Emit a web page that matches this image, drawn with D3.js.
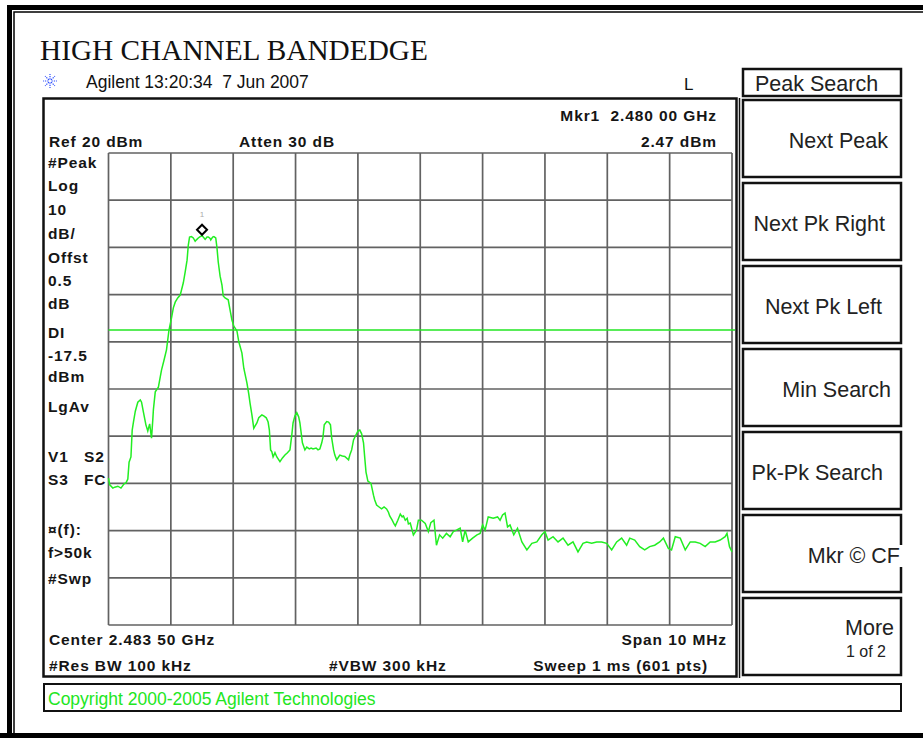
<!DOCTYPE html>
<meta charset="utf-8">
<title>high channel bandedge</title>
<style>
  body { margin: 0; background: #fff; }
  svg text { font-family: "Liberation Sans", Arial, sans-serif; }
</style>
<body>
<script src="https://d3js.org/d3.v7.min.js"></script>
<script>
// trace: offset from centre (MHz) and level (dBm)
var freqOffset = [
  -5.00,-4.98,-4.93,-4.90,-4.85,-4.80,-4.75,-4.72,-4.69,-4.67,
  -4.64,-4.62,-4.60,-4.57,-4.53,-4.49,-4.47,-4.44,-4.40,-4.37,
  -4.34,-4.31,-4.29,-4.28,-4.25,-4.20,-4.15,-4.11,-4.07,-4.03,
  -3.99,-3.96,-3.93,-3.89,-3.85,-3.80,-3.77,-3.74,-3.72,-3.70,
  -3.67,-3.64,-3.61,-3.59,-3.56,-3.53,-3.50,-3.48,-3.45,-3.42,
  -3.40,-3.37,-3.36,-3.33,-3.31,-3.28,-3.26,-3.24,-3.21,-3.18,
  -3.16,-3.13,-3.08,-3.05,-3.02,-2.99,-2.94,-2.91,-2.86,-2.83,
  -2.78,-2.75,-2.73,-2.70,-2.67,-2.62,-2.59,-2.54,-2.51,-2.47,
  -2.44,-2.42,-2.40,-2.38,-2.36,-2.33,-2.30,-2.25,-2.21,-2.17,
  -2.13,-2.09,-2.06,-2.04,-2.01,-1.98,-1.95,-1.93,-1.89,-1.85,
  -1.82,-1.78,-1.75,-1.72,-1.67,-1.64,-1.61,-1.58,-1.56,-1.54,
  -1.50,-1.47,-1.44,-1.42,-1.39,-1.37,-1.34,-1.31,-1.29,-1.25,
  -1.21,-1.15,-1.13,-1.10,-1.07,-1.03,-1.00,-0.97,-0.94,-0.91,
  -0.89,-0.87,-0.84,-0.79,-0.75,-0.73,-0.70,-0.66,-0.62,-0.58,
  -0.54,-0.51,-0.49,-0.45,-0.42,-0.40,-0.36,-0.32,-0.29,-0.27,
  -0.24,-0.21,-0.19,-0.16,-0.11,-0.06,-0.03,0.02,0.08,0.13,
  0.17,0.22,0.26,0.31,0.36,0.42,0.48,0.53,0.58,0.64,
  0.68,0.72,0.77,0.84,0.91,0.96,1.00,1.04,1.09,1.17,
  1.24,1.28,1.32,1.36,1.40,1.44,1.50,1.56,1.63,1.71,
  1.79,1.87,1.95,2.00,2.05,2.13,2.21,2.29,2.37,2.45,
  2.53,2.61,2.67,2.75,2.83,2.91,2.99,3.07,3.15,3.23,
  3.31,3.36,3.44,3.52,3.60,3.68,3.76,3.84,3.90,3.98,
  4.03,4.09,4.17,4.25,4.33,4.41,4.49,4.57,4.65,4.73,
  4.81,4.89,4.92,4.96,5.00
];
var level = [
  -48.9,-50.3,-51.0,-50.8,-50.6,-51.0,-50.1,-49.9,-49.1,-45.5,
  -44.4,-38.7,-37.0,-34.7,-32.8,-32.3,-32.8,-34.9,-37.6,-38.9,
  -37.4,-40.4,-36.6,-34.4,-30.6,-29.6,-26.0,-23.9,-21.7,-17.5,
  -15.0,-12.8,-11.6,-10.7,-10.1,-7.5,-5.2,-2.7,0.5,2.2,
  2.3,2.0,1.3,1.6,2.0,2.3,2.47,2.2,1.7,2.2,
  2.2,1.9,1.6,2.2,2.3,2.0,-0.1,-3.1,-6.1,-8.0,
  -10.3,-10.7,-11.1,-13.3,-15.4,-16.7,-17.7,-20.0,-22.4,-25.6,
  -28.7,-31.1,-33.0,-35.5,-38.3,-37.2,-36.1,-35.5,-35.7,-36.1,
  -37.0,-38.7,-42.9,-43.3,-44.4,-43.5,-44.4,-45.4,-44.6,-44.0,
  -43.5,-42.9,-39.7,-37.2,-35.7,-35.0,-35.9,-37.2,-41.4,-42.9,
  -42.3,-42.7,-42.5,-42.7,-42.5,-42.9,-42.7,-41.4,-40.2,-37.6,
  -36.9,-37.0,-37.6,-40.4,-42.9,-44.0,-45.0,-44.4,-44.0,-44.2,
  -44.3,-45.0,-44.0,-42.9,-40.8,-39.7,-38.9,-38.7,-39.5,-41.4,
  -44.6,-47.6,-49.5,-50.0,-52.5,-53.5,-54.6,-55.0,-55.4,-55.0,
  -55.4,-56.1,-56.9,-57.8,-58.6,-59.0,-57.8,-56.5,-57.1,-56.9,
  -57.8,-57.4,-58.6,-58.4,-60.9,-59.9,-57.8,-57.8,-58.5,-60.2,
  -58.3,-57.8,-63.1,-60.9,-61.6,-60.6,-61.3,-60.2,-59.9,-59.5,
  -62.4,-59.9,-62.4,-61.6,-60.9,-60.6,-58.8,-59.9,-57.1,-57.4,
  -57.1,-57.8,-56.7,-56.3,-59.2,-58.8,-60.9,-59.5,-62.4,-64.1,
  -62.7,-62.4,-60.9,-60.2,-62.0,-61.3,-62.4,-61.6,-63.1,-62.4,
  -64.5,-62.7,-62.4,-62.7,-62.4,-62.4,-62.7,-64.1,-62.4,-61.6,
  -63.1,-61.6,-62.0,-63.4,-64.1,-63.4,-63.1,-62.4,-61.6,-63.8,
  -64.1,-61.3,-61.6,-64.1,-62.4,-62.4,-62.7,-63.4,-62.4,-62.4,
  -62.0,-61.3,-60.6,-63.4,-64.5
];

var refLevel = 20;          // dBm, top line
var dbPerDiv = 10;
var spanMHz = 10;
var displayLine = -17.5;    // dBm
var markerFreq = -3.5;      // 2.480 00 GHz
var markerLevel = 2.47;

var leftLabels = ["#Peak", "Log", "10", "dB/", "Offst", "0.5", "dB", "DI", "-17.5", "dBm",
                  "LgAv", "V1  S2", "S3  FC", "¤(f):", "f>50k", "#Swp"];
var leftBaselines = [168, 191, 215, 239, 263, 286, 309, 338, 361, 382, 412, 462, 485, 535, 558, 584];

var softKeys = ["Next Peak", "Next Pk Right", "Next Pk Left", "Min Search", "Pk-Pk Search", "Mkr © CF", "More"];
var softKeyEnds = [888, 885, 882, 891, 883, 900, 894];

var width = 923, height = 738;
var nb = "\u00a0";

var svg = d3.select("body").append("svg")
    .attr("width", width)
    .attr("height", height);

// outer printout frame
svg.append("rect").attr("x", 0).attr("y", 0).attr("width", width).attr("height", height).attr("fill", "#fff");
svg.append("path")
    .attr("d", "M9.5,740 V7.5 H930")
    .attr("fill", "none").attr("stroke", "#000").attr("stroke-width", 5);
svg.append("path")
    .attr("d", "M14,740 V12 H930")
    .attr("fill", "none").attr("stroke", "#000").attr("stroke-width", 1.5);
svg.append("rect").attr("x", 0).attr("y", 733).attr("width", width).attr("height", 6).attr("fill", "#000");

svg.append("text")
    .attr("x", 40).attr("y", 60)
    .style("font-family", "'Liberation Serif', 'Times New Roman', serif")
    .style("font-size", "29.3px")
    .attr("fill", "#111")
    .text("HIGH CHANNEL BANDEDGE");

// agilent spark logo
var logo = svg.append("g").attr("transform", "translate(50,81)");
logo.selectAll("line")
    .data(d3.range(8))
    .enter().append("line")
    .attr("x1", d => 1.5 * Math.cos(d * Math.PI / 4))
    .attr("y1", d => 1.5 * Math.sin(d * Math.PI / 4))
    .attr("x2", d => 7 * Math.cos(d * Math.PI / 4))
    .attr("y2", d => 7 * Math.sin(d * Math.PI / 4))
    .attr("stroke", "#2a4cff")
    .attr("stroke-width", 1.2)
    .attr("stroke-dasharray", "1.3,1");

svg.append("text")
    .attr("x", 86).attr("y", 88)
    .style("font-size", "17.5px")
    .attr("fill", "#111")
    .text("Agilent 13:20:34" + nb + nb + "7 Jun 2007");

svg.append("text")
    .attr("x", 684).attr("y", 90)
    .style("font-size", "17px")
    .attr("fill", "#111")
    .text("L");

// instrument screen frame
svg.append("rect")
    .attr("x", 43.5).attr("y", 98.5).attr("width", 693).attr("height", 578)
    .attr("fill", "none").attr("stroke", "#111").attr("stroke-width", 2.5);
svg.append("line")
    .attr("x1", 739.5).attr("x2", 739.5).attr("y1", 98).attr("y2", 678)
    .attr("stroke", "#111").attr("stroke-width", 1.5);

// copyright strip
svg.append("rect")
    .attr("x", 44).attr("y", 684).attr("width", 857).attr("height", 27)
    .attr("fill", "none").attr("stroke", "#111").attr("stroke-width", 2);
svg.append("text")
    .attr("x", 48).attr("y", 705)
    .style("font-size", "17.5px")
    .attr("fill", "#22e622")
    .text("Copyright 2000-2005 Agilent Technologies");

// soft keys
svg.append("rect")
    .attr("x", 743).attr("y", 69).attr("width", 158).attr("height", 27)
    .attr("fill", "#fff").attr("stroke", "#111").attr("stroke-width", 2.5);
svg.append("text")
    .attr("x", 755).attr("y", 91)
    .style("font-size", "21.5px")
    .attr("fill", "#222")
    .text("Peak Search");

var keys = svg.append("g").selectAll("g")
    .data(softKeys)
    .enter().append("g")
    .attr("transform", (d, i) => "translate(743," + (100 + i * 83) + ")");

keys.append("rect")
    .attr("width", 158).attr("height", 77)
    .attr("fill", "#fff").attr("stroke", "#111").attr("stroke-width", 2.5);

keys.append("text")
    .attr("x", (d, i) => softKeyEnds[i] - 743)
    .attr("y", (d, i) => d == "More" ? 37 : 48)
    .attr("text-anchor", "end")
    .style("font-size", "21.5px")
    .attr("fill", "#222")
    .text(d => d);

// the CF label runs over the key border
keys.filter(d => d == "Mkr © CF")
    .insert("rect", "text")
    .attr("x", 150).attr("y", 30).attr("width", 12).attr("height", 22)
    .attr("fill", "#fff");

keys.filter(d => d == "More")
    .append("text")
    .attr("x", 886 - 743).attr("y", 59)
    .attr("text-anchor", "end")
    .style("font-size", "16px")
    .attr("fill", "#222")
    .text("1 of 2");

// graticule
var x = d3.scaleLinear().domain([-spanMHz / 2, spanMHz / 2]).range([108.5, 732]);
var y = d3.scaleLinear().domain([refLevel - 10 * dbPerDiv, refLevel]).range([625, 153]);

var grid = svg.append("g").attr("class", "grid");
grid.selectAll(".vline")
    .data(x.ticks(10))
    .enter().append("line")
    .attr("x1", d => x(d)).attr("x2", d => x(d))
    .attr("y1", y.range()[1]).attr("y2", y.range()[0])
    .attr("stroke", "#626262").attr("stroke-width", 1.7);
grid.selectAll(".hline")
    .data(y.ticks(10))
    .enter().append("line")
    .attr("x1", x.range()[0]).attr("x2", x.range()[1])
    .attr("y1", d => y(d)).attr("y2", d => y(d))
    .attr("stroke", "#626262").attr("stroke-width", 1.7);

// screen annotations
var bold = svg.append("g")
    .style("font-weight", "bold")
    .style("font-size", "15.5px")
    .style("letter-spacing", "0.9px")
    .attr("fill", "#151515");

bold.append("text").attr("x", 717).attr("y", 121).attr("text-anchor", "end").text("Mkr1" + nb + nb + "2.480 00 GHz");
bold.append("text").attr("x", 717).attr("y", 147).attr("text-anchor", "end").text("2.47 dBm");
bold.append("text").attr("x", 49).attr("y", 147).text("Ref 20 dBm");
bold.append("text").attr("x", 239).attr("y", 147).text("Atten 30 dB");
bold.append("text").attr("x", 49).attr("y", 645).text("Center 2.483 50 GHz");
bold.append("text").attr("x", 727).attr("y", 645).attr("text-anchor", "end").text("Span 10 MHz");
bold.append("text").attr("x", 49).attr("y", 671).text("#Res BW 100 kHz");
bold.append("text").attr("x", 329).attr("y", 671).text("#VBW 300 kHz");
bold.append("text").attr("x", 708).attr("y", 671).attr("text-anchor", "end").text("Sweep 1 ms (601 pts)");

leftLabels.forEach(function(t, i) {
    var parts = t.split(/\s{2,}/);
    bold.append("text").attr("x", 48).attr("y", leftBaselines[i]).text(parts[0]);
    if (parts[1]) bold.append("text").attr("x", 84).attr("y", leftBaselines[i]).text(parts[1]);
});

// display line
svg.append("line")
    .attr("x1", x.range()[0]).attr("x2", x.range()[1] + 3)
    .attr("y1", y(displayLine)).attr("y2", y(displayLine))
    .attr("stroke", "#22e622").attr("stroke-width", 1.6);

// trace
var trace = freqOffset.map((f, i) => ({f: f, l: level[i]}));
var line = d3.line()
    .x(d => x(d.f))
    .y(d => y(d.l));

svg.append("path")
    .datum(trace)
    .attr("d", line)
    .attr("fill", "none")
    .attr("stroke", "#22ee22")
    .attr("stroke-width", 1.5)
    .attr("stroke-linejoin", "miter");

// marker 1
var mx = x(markerFreq), my = y(markerLevel) - 6;
svg.append("path")
    .attr("d", "M" + mx + "," + (my - 5) + " L" + (mx + 5) + "," + my + " L" + mx + "," + (my + 5) + " L" + (mx - 5) + "," + my + "Z")
    .attr("fill", "#fff").attr("stroke", "#000").attr("stroke-width", 2);
svg.append("text")
    .attr("x", mx).attr("y", my - 13)
    .attr("text-anchor", "middle")
    .style("font-size", "8px")
    .attr("fill", "#aaa")
    .text("1");
</script>
</body>
